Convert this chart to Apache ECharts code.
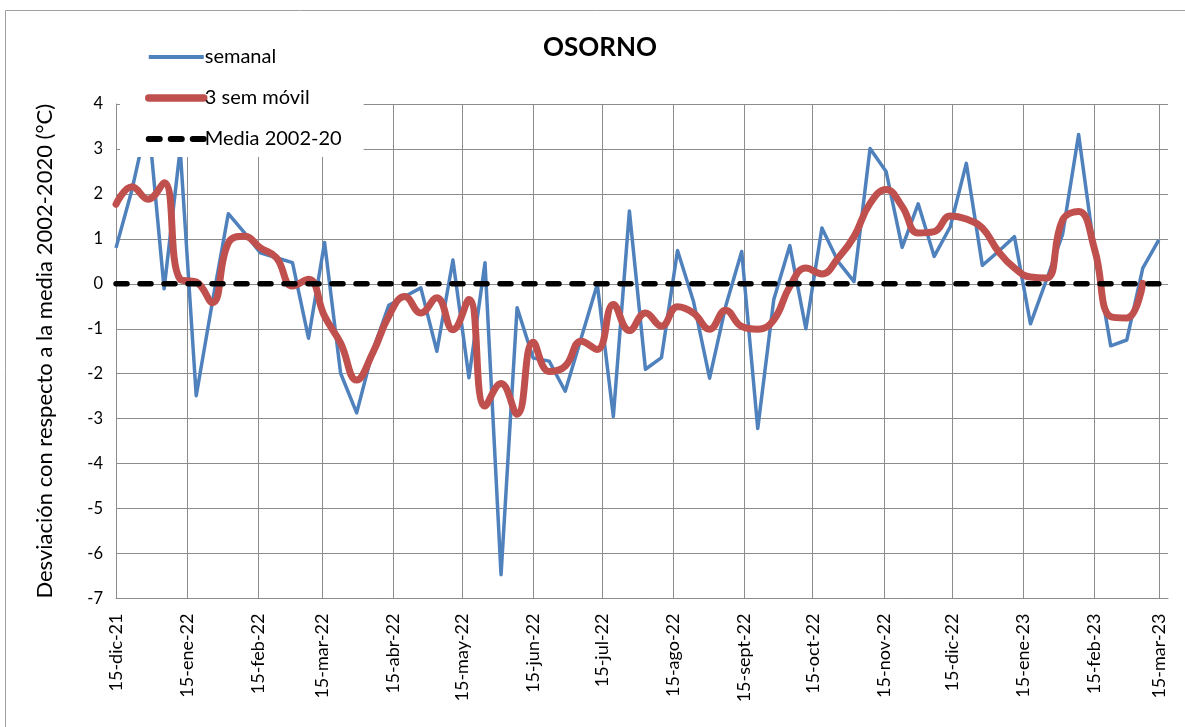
<!DOCTYPE html>
<html><head><meta charset="utf-8">
<script src="https://cdn.jsdelivr.net/npm/echarts@6/dist/echarts.min.js"></script>
<style>html,body{margin:0;padding:0;background:#fff}#c{width:1185px;height:727px}</style>
</head><body><div id="c"></div>
<script>
// ---- data ----
const startDate = '2021-12-15';   // first weekly value
const weekStepDays = 7;
const tickDates = ['2021-12-15','2022-01-15','2022-02-15','2022-03-15','2022-04-15','2022-05-15','2022-06-15','2022-07-15','2022-08-15','2022-09-15','2022-10-15','2022-11-15','2022-12-15','2023-01-15','2023-02-15','2023-03-15'];
const tickLabels = ['15-dic-21','15-ene-22','15-feb-22','15-mar-22','15-abr-22','15-may-22','15-jun-22','15-jul-22','15-ago-22','15-sept-22','15-oct-22','15-nov-22','15-dic-22','15-ene-23','15-feb-23','15-mar-23'];
const semanal = [0.80,2.1,3.7,-0.11,3.0,-2.49,-0.42,1.56,1.14,0.69,
  0.58,0.47,-1.21,0.92,-1.99,-2.87,-1.5,-0.48,-0.28,-0.09,
  -1.5,0.53,-2.09,0.47,-6.47,-0.53,-1.65,-1.72,-2.39,-1.2,
  -0.01,-2.95,1.62,-1.9,-1.64,0.74,-0.4,-2.10,-0.5,0.72,
  -3.22,-0.35,0.85,-1.0,1.24,0.5,0.05,3.01,2.5,0.81,
  1.78,0.61,1.27,2.68,0.41,0.72,1.05,-0.89,0.09,1.1,
  3.32,0.7,-1.38,-1.25,0.35,0.98];
const movil3 = [1.77,2.16,1.88,2.25,0.1,0.04,-0.42,0.91,1.06,0.8,
  0.58,-0.05,0.1,-0.72,-1.32,-2.14,-1.54,-0.72,-0.28,-0.65,
  -0.31,-1.02,-0.35,-2.72,-2.22,-2.9,-1.3,-1.95,-1.83,-1.28,
  -1.46,-0.46,-1.04,-0.65,-0.94,-0.51,-0.65,-1.01,-0.59,-0.95,
  -1.01,-0.8,-0.06,0.35,0.22,0.57,1.05,1.79,2.10,1.72,
  1.13,1.16,1.51,1.44,1.24,0.72,0.35,0.15,0.13,1.42,
  1.61,0.76,-0.73,-0.76,0.01,null];
const media = [0, 0];
const yMin = -7, yMax = 4, yStep = 1;

// ---- helpers ----
const DAY = 86400000;
const off = d => Math.round((Date.parse(d) - Date.parse(startDate)) / DAY);
const tickDays = tickDates.map(off);
const weekDays = semanal.map((_, i) => i * weekStepDays);
const lastDay = weekDays[weekDays.length - 1];
const FONT = 'Lato';
const BLUE = '#4F81BD', RED = '#C0504D';

const chart = echarts.init(document.getElementById('c'), null, {renderer: 'canvas'});
chart.setOption({
  animation: false,
  backgroundColor: '#fff',
  title: {
    text: 'OSORNO', left: 538, top: 30,
    textStyle: {fontFamily: FONT, fontSize: 26, fontWeight: 'bold', color: '#000'}
  },
  graphic: [{
    type: 'rect', silent: true, z: 0,
    shape: {x: 5.5, y: 10.5, width: 1400, height: 1000},
    style: {fill: 'none', stroke: '#a0a0a0', lineWidth: 1}
  }],
  legend: {
    orient: 'vertical', left: 120, top: 37,
    backgroundColor: '#fff', padding: [10, 22, 8, 25],
    itemWidth: 55, itemHeight: 14, itemGap: 21,
    itemStyle: {opacity: 0},
    textStyle: {fontFamily: FONT, fontSize: 20, color: '#000', lineHeight: 20, padding: [0, 0, 0, -4]},
    data: [
      {name: 'semanal', lineStyle: {width: 4, color: BLUE}},
      {name: '3 sem móvil', lineStyle: {width: 7.5, color: RED, cap: 'round'}},
      {name: 'Media 2002-20', lineStyle: {width: 6, color: '#000', type: [11, 11], cap: 'round'}}
    ]
  },
  grid: {left: 116, right: 17, top: 104, bottom: 128.5, containLabel: false},
  xAxis: {
    type: 'value', min: 0, max: lastDay + 4,
    axisLine: {show: true, onZero: false, lineStyle: {color: '#8c8c8c', width: 1}},
    axisTick: {show: false, customValues: tickDays},
    splitLine: {show: true, lineStyle: {color: '#8c8c8c', width: 1}},
    axisLabel: {
      customValues: tickDays, rotate: 90, margin: 15,
      fontFamily: FONT, fontSize: 18, color: '#000',
      formatter: v => tickLabels[tickDays.indexOf(Math.round(v))] || ''
    }
  },
  yAxis: {
    type: 'value', min: yMin, max: yMax, interval: yStep,
    name: 'Desviación con respecto a la media 2002-2020 (°C)',
    nameLocation: 'middle', nameGap: 60,
    nameTextStyle: {fontFamily: FONT, fontSize: 22, color: '#000'},
    axisLine: {show: true, lineStyle: {color: '#8c8c8c', width: 1}},
    axisTick: {show: false},
    splitLine: {show: true, lineStyle: {color: '#8c8c8c', width: 1}},
    axisLabel: {fontFamily: FONT, fontSize: 16.5, color: '#000', margin: 13}
  },
  series: [
    {
      name: 'semanal', type: 'line', symbol: 'none', z: 2,
      data: weekDays.map((d, i) => [d, semanal[i]]),
      itemStyle: {color: BLUE},
      lineStyle: {color: BLUE, width: 3.5, join: 'round'}
    },
    {
      name: '3 sem móvil', type: 'line', symbol: 'none', smooth: 0.45, z: 3,
      data: weekDays.map((d, i) => [d, movil3[i]]).filter(p => p[1] !== null),
      itemStyle: {color: RED},
      lineStyle: {color: RED, width: 7, cap: 'round', join: 'round'}
    },
    {
      name: 'Media 2002-20', type: 'line', symbol: 'none', z: 4,
      data: [[weekDays[0], media[0]], [lastDay, media[1]]],
      itemStyle: {color: '#000'},
      lineStyle: {color: '#000', width: 5.5, type: [11, 13], cap: 'round'}
    }
  ]
});
</script>
</body></html>
